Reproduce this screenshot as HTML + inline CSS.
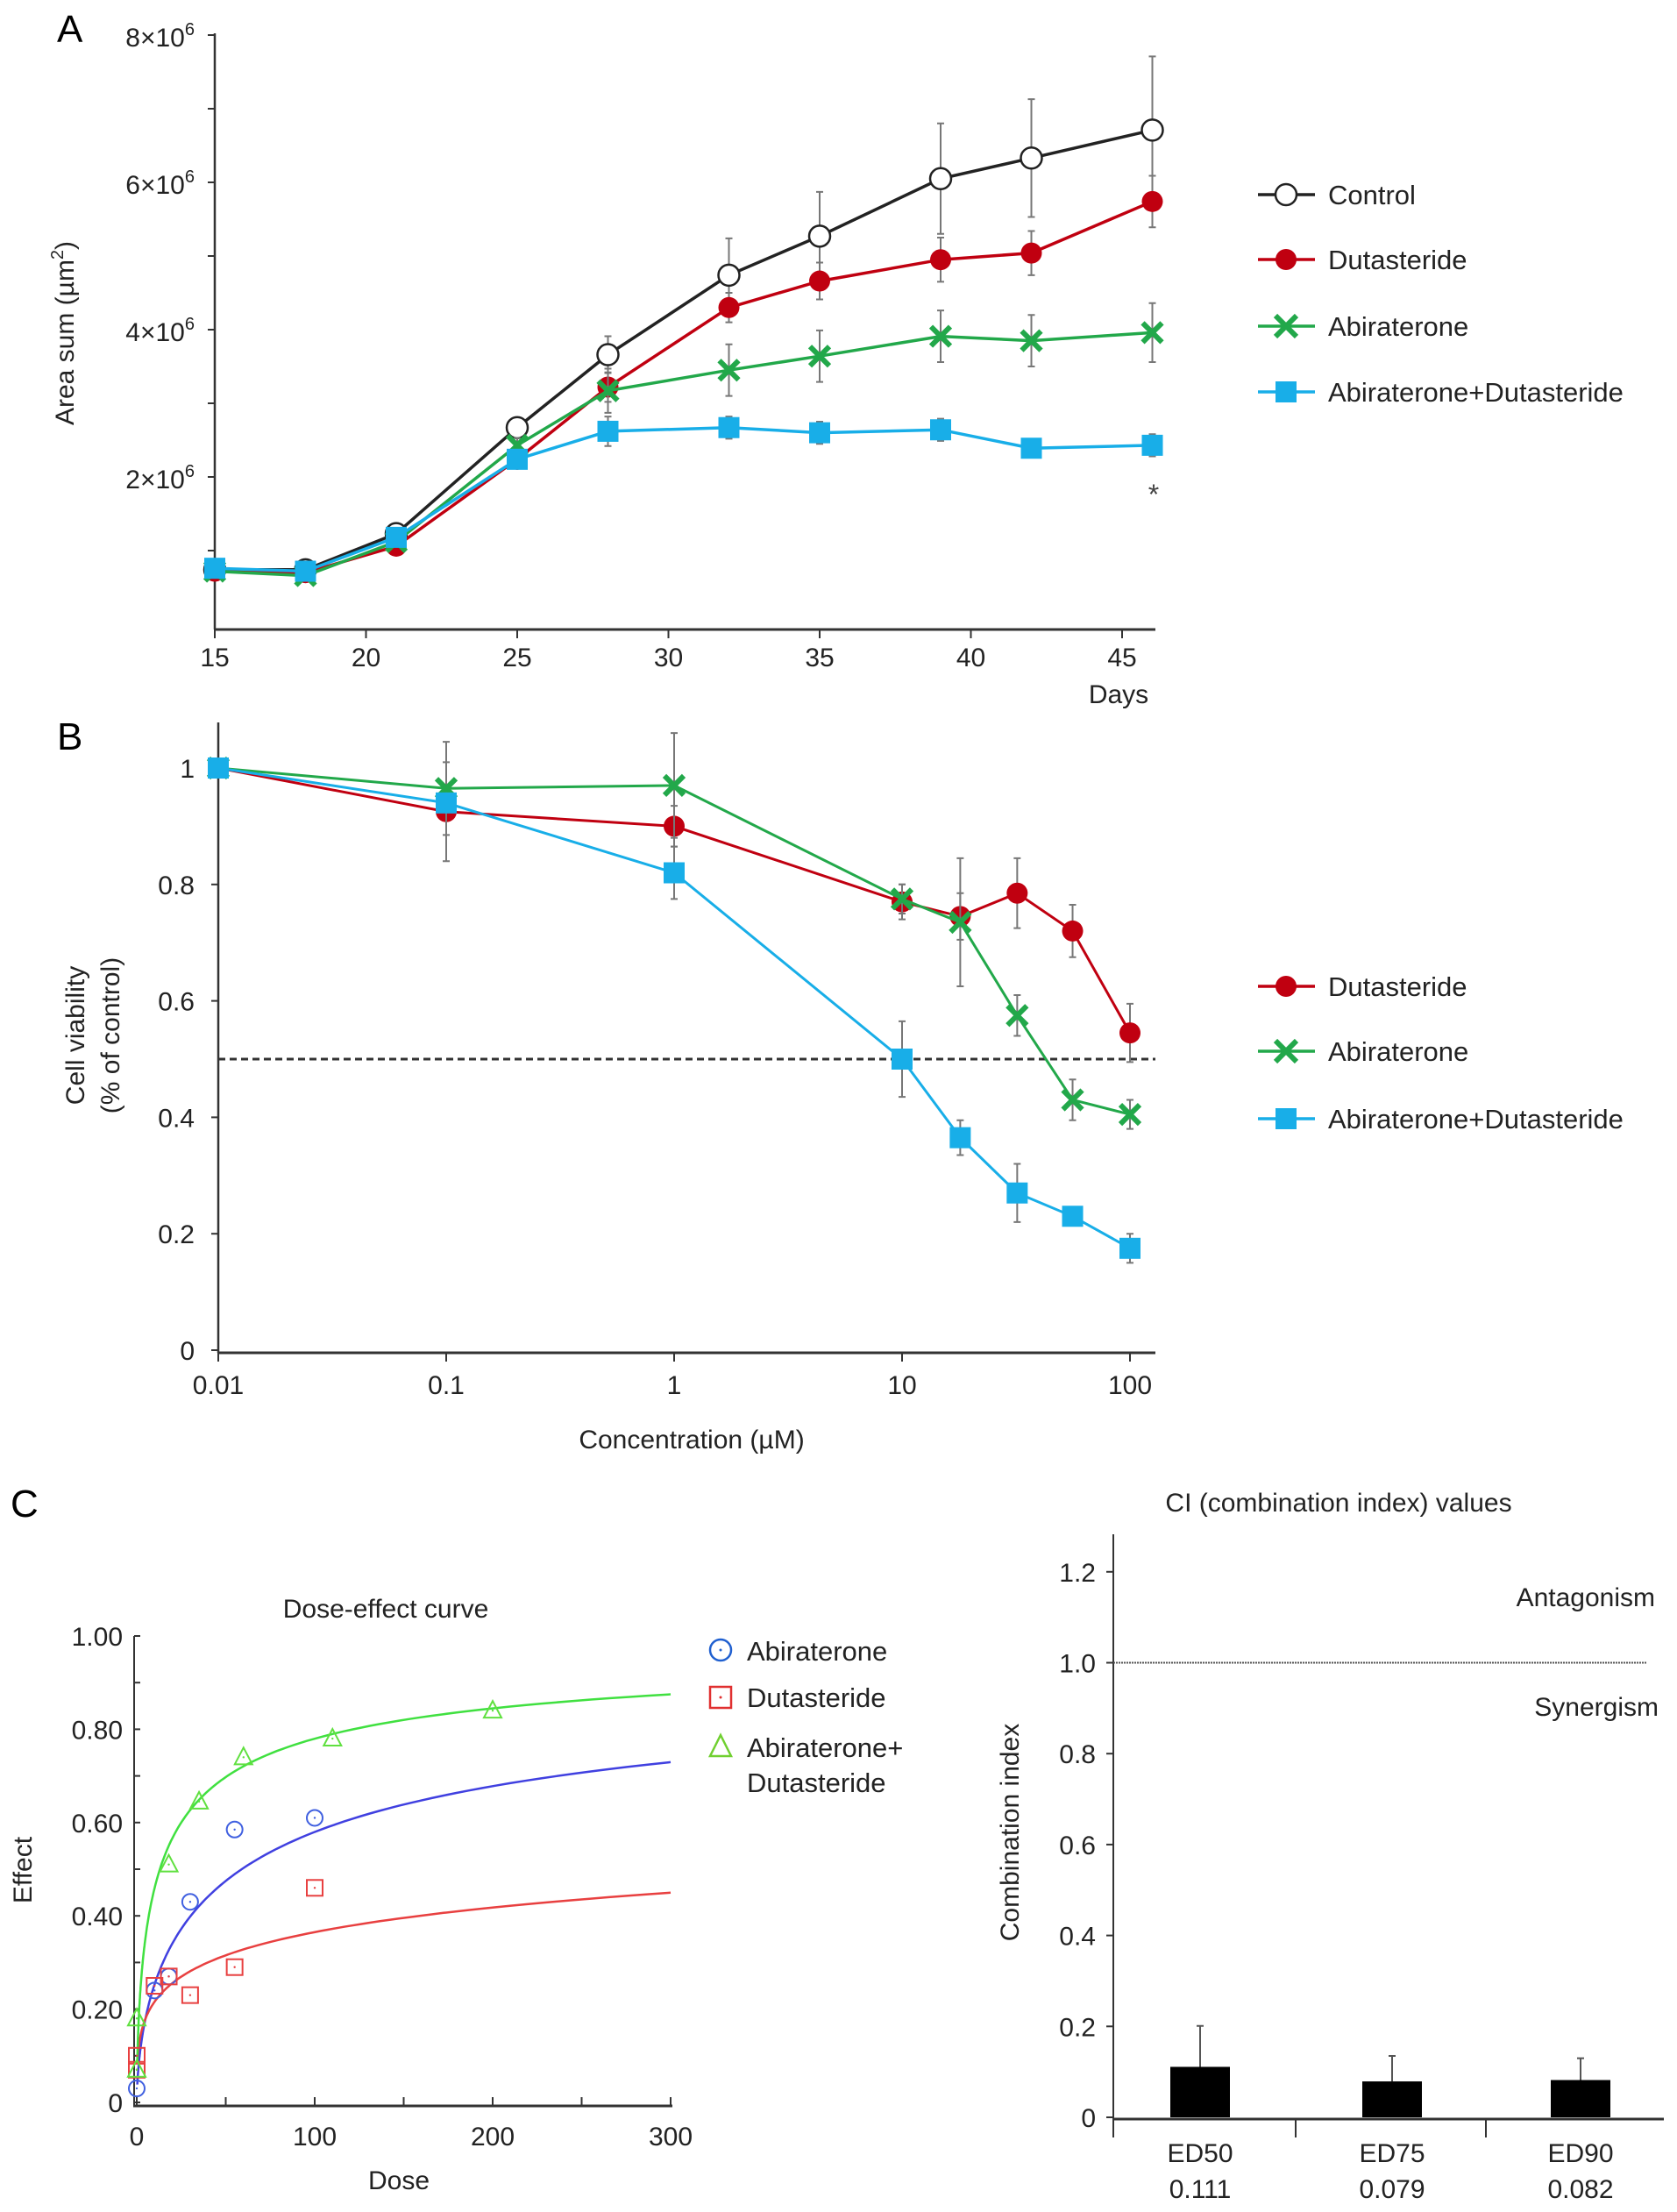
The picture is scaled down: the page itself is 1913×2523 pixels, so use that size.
<!DOCTYPE html>
<html><head><meta charset="utf-8"><style>
html,body{margin:0;padding:0;background:#fff}
svg{display:block;font-family:"Liberation Sans",sans-serif}
</style></head><body>
<svg id="fig" width="1913" height="2523" viewBox="0 0 1913 2523" xmlns="http://www.w3.org/2000/svg">
<g id="gA"></g>
<g id="gB"></g>
<g id="gC"></g>
<g id="gD"></g>
</svg>
<script>
// ---- Panel A data ----
const daysA=[15,18,21,25,28,32,35,39,42,46];
const ctrlA=[0.74,0.74,1.23,2.67,3.66,4.74,5.27,6.05,6.33,6.71];
const ctrlErrA=[0.05,0.05,0.08,0.1,0.25,0.5,0.6,0.75,0.8,1.0];
const dutA=[0.72,0.70,1.06,2.24,3.22,4.30,4.66,4.95,5.04,5.74];
const dutErrA=[0.05,0.05,0.05,0.1,0.2,0.2,0.25,0.3,0.3,0.35];
const abiA=[0.72,0.66,1.12,2.43,3.17,3.45,3.64,3.91,3.85,3.96];
const abiErrA=[0.05,0.05,0.05,0.1,0.3,0.35,0.35,0.35,0.35,0.4];
const comboA=[0.76,0.72,1.18,2.24,2.62,2.67,2.60,2.64,2.39,2.43];
const comboErrA=[0.05,0.05,0.05,0.1,0.2,0.15,0.15,0.15,0.12,0.15];
const xTicksA=[15,20,25,30,35,40,45];
const yTicksA=[2,4,6,8];
// ---- Panel B data ----
const concB=[0.01,0.1,1,10,18,32,56,100];
const dutB=[1,0.925,0.90,0.77,0.745,0.785,0.72,0.545];
const dutErrB=[0,0.085,0.035,0.03,0.04,0.06,0.045,0.05];
const abiB=[1,0.965,0.97,0.775,0.735,0.575,0.43,0.405];
const abiErrB=[0,0.08,0.09,0.025,0.11,0.035,0.035,0.025];
const comboB=[1,0.94,0.82,0.50,0.365,0.27,0.23,0.175];
const comboErrB=[0,0.01,0.045,0.065,0.03,0.05,0.01,0.025];
const xTicksB=[0.01,0.1,1,10,100];
const xTickLabelsB=["0.01","0.1","1","10","100"];
const yTicksB=[0,0.2,0.4,0.6,0.8,1];
const yTickLabelsB=["0","0.2","0.4","0.6","0.8","1"];
// ---- Panel C dose-effect data ----
const abiDoseC=[0,10,18,30,55,100];
const abiEffC=[0.03,0.24,0.27,0.43,0.585,0.61];
const dutDoseC=[0,0,10,18,30,55,100];
const dutEffC=[0.07,0.10,0.25,0.27,0.23,0.29,0.46];
const comboDoseC=[0,0,18,35,60,110,200];
const comboEffC=[0.18,0.07,0.51,0.645,0.74,0.78,0.84];
const curveDm=[59,564,13];   // abi, dut, combo
const curveM=[0.61,0.32,0.62];
const xTicksC=[0,100,200,300];
const yTicksC=[0,0.2,0.4,0.6,0.8,1.0];
const yTickLabelsC=["0","0.20","0.40","0.60","0.80","1.00"];
// ---- Panel C CI data ----
const ciCats=["ED50","ED75","ED90"];
const ciVals=[0.111,0.079,0.082];
const ciErr=[0.09,0.056,0.048];
const ciLabels=["0.111","0.079","0.082"];
const yTicksD=[0,0.2,0.4,0.6,0.8,1.0,1.2];
const yTickLabelsD=["0","0.2","0.4","0.6","0.8","1.0","1.2"];

const NS="http://www.w3.org/2000/svg";
function mk(p,tag,at,txt){const e=document.createElementNS(NS,tag);for(const k in at)e.setAttribute(k,at[k]);if(txt!==undefined)e.textContent=txt;p.appendChild(e);return e;}
function path(pts){return pts.map((p,i)=>(i?'L':'M')+p[0].toFixed(1)+' '+p[1].toFixed(1)).join(' ');}

function marker(g,type,x,y,col,s){
  let e;
  if(type==='open'){e=mk(g,'circle',{cx:x,cy:y,r:s,fill:'#fff',stroke:'#222','stroke-width':2.5});}
  else if(type==='dot'){e=mk(g,'circle',{cx:x,cy:y,r:s,fill:col});}
  else if(type==='sq'){e=mk(g,'rect',{x:x-s,y:y-s,width:2*s,height:2*s,fill:col});}
  else {e=mk(g,'path',{d:`M${x-s} ${y-s}L${x+s} ${y+s}M${x-s} ${y+s}L${x+s} ${y-s}`,stroke:col,'stroke-width':6});}
  
  
}

// ===== Panel A =====
(function(){
  const g=document.getElementById('gA');
  const X=d=>245+(d-15)*34.5, Y=v=>712-84*v;
  mk(g,'text',{x:65,y:48,'font-size':44},'A');
  mk(g,'line',{x1:245,y1:38,x2:245,y2:718,stroke:'#333','stroke-width':2.5});
  mk(g,'line',{x1:244,y1:718,x2:1318,y2:718,stroke:'#333','stroke-width':3});
  for(let v=1;v<=8;v++)mk(g,'line',{x1:237,y1:Y(v),x2:245,y2:Y(v),stroke:'#333','stroke-width':2});
  yTicksA.forEach(v=>{const t=mk(g,'text',{x:222,y:Y(v)+13,'font-size':30,'text-anchor':'end',fill:'#222'});
    
    mk(t,'tspan',{},v+'\u00d710');mk(t,'tspan',{dy:-13,'font-size':20},'6');});
  for(let d=15;d<=45;d+=5)mk(g,'line',{x1:X(d),y1:718,x2:X(d),y2:728,stroke:'#333','stroke-width':2});
  xTicksA.forEach(d=>{const t=mk(g,'text',{x:X(d),y:760,'font-size':30,'text-anchor':'middle',fill:'#222'},d);});
  mk(g,'text',{x:1276,y:802,'font-size':30,'text-anchor':'middle',fill:'#222'},'Days');
  const yt=mk(g,'text',{x:0,y:0,'font-size':30,'text-anchor':'middle',fill:'#222',transform:'translate(84,380) rotate(-90)'});
  
  mk(yt,'tspan',{},'Area sum (\u00b5m');mk(yt,'tspan',{dy:-12,'font-size':20},'2');mk(yt,'tspan',{dy:12},')');
  mk(g,'text',{x:1316,y:575,'font-size':32,'text-anchor':'middle',fill:'#444'},'*');
  const ser=[[ctrlA,ctrlErrA,'#222','open',12,'series-control'],[dutA,dutErrA,'#c00010','dot',12,'series-dutasteride'],
             [abiA,abiErrA,'#22a84a','x',11,'series-abiraterone'],[comboA,comboErrA,'#18aee8','sq',12,'series-combo']];
  ser.forEach(([v,e,c,m,s,n])=>{
    const sg=mk(g,'g',{});
    v.forEach((y,i)=>{const x=X(daysA[i]);mk(sg,'path',{d:`M${x} ${Y(y-e[i])}V${Y(y+e[i])}M${x-4} ${Y(y-e[i])}h8M${x-4} ${Y(y+e[i])}h8`,stroke:'#777','stroke-width':2});});
    mk(sg,'path',{d:path(v.map((y,i)=>[X(daysA[i]),Y(y)])),fill:'none',stroke:c,'stroke-width':3.5});
    v.forEach((y,i)=>marker(sg,m,X(daysA[i]),Y(y),c,s));
  });
  const leg=[['Control','#222','open'],['Dutasteride','#c00010','dot'],['Abiraterone','#22a84a','x'],['Abiraterone+Dutasteride','#18aee8','sq']];
  const ly=[222,296,372,447];
  leg.forEach((l,i)=>{const lg=mk(g,'g',{});
    mk(lg,'line',{x1:1435,y1:ly[i],x2:1500,y2:ly[i],stroke:l[1],'stroke-width':3.5});marker(lg,l[2],1467,ly[i],l[1],12);
    mk(lg,'text',{x:1515,y:ly[i]+11,'font-size':31,fill:'#222'},l[0]);});
})();

// ===== Panel B =====
(function(){
  const g=document.getElementById('gB');
  const X=c=>249+(Math.log10(c)+2)*260, Y=v=>1540-664*v;
  mk(g,'text',{x:65,y:855,'font-size':44},'B');
  mk(g,'line',{x1:249,y1:824,x2:249,y2:1543,stroke:'#333','stroke-width':2.5});
  mk(g,'line',{x1:248,y1:1543,x2:1318,y2:1543,stroke:'#333','stroke-width':3});
  yTicksB.forEach((v,i)=>{mk(g,'line',{x1:241,y1:Y(v),x2:249,y2:Y(v),stroke:'#333','stroke-width':2});
    const t=mk(g,'text',{x:222,y:Y(v)+11,'font-size':30,'text-anchor':'end',fill:'#222'},yTickLabelsB[i]);});
  xTicksB.forEach((c,i)=>{mk(g,'line',{x1:X(c),y1:1543,x2:X(c),y2:1553,stroke:'#333','stroke-width':2});
    const t=mk(g,'text',{x:X(c),y:1590,'font-size':30,'text-anchor':'middle',fill:'#222'},xTickLabelsB[i]);});
  mk(g,'text',{x:789,y:1652,'font-size':30,'text-anchor':'middle',fill:'#222'},'Concentration (\u00b5M)');
  const yt=mk(g,'text',{x:0,y:0,'font-size':30,'text-anchor':'middle',fill:'#222',transform:'translate(96,1181) rotate(-90)'},'Cell viability');
  mk(g,'text',{x:0,y:0,'font-size':30,'text-anchor':'middle',fill:'#222',transform:'translate(136,1181) rotate(-90)'},'(% of control)');
  const hl=mk(g,'line',{x1:249,y1:Y(0.5),x2:1318,y2:Y(0.5),stroke:'#333','stroke-width':3,'stroke-dasharray':'8 5'});
  const ser=[[dutB,dutErrB,'#c00010','dot',12,'series-dutasteride'],[abiB,abiErrB,'#22a84a','x',11,'series-abiraterone'],[comboB,comboErrB,'#18aee8','sq',12,'series-combo']];
  ser.forEach(([v,e,c,m,s,n])=>{
    const sg=mk(g,'g',{});
    v.forEach((y,i)=>{if(!e[i])return;const x=X(concB[i]);mk(sg,'path',{d:`M${x} ${Y(y-e[i])}V${Y(y+e[i])}M${x-4} ${Y(y-e[i])}h8M${x-4} ${Y(y+e[i])}h8`,stroke:'#777','stroke-width':2});});
    mk(sg,'path',{d:path(v.map((y,i)=>[X(concB[i]),Y(y)])),fill:'none',stroke:c,'stroke-width':3});
    v.forEach((y,i)=>marker(sg,m,X(concB[i]),Y(y),c,s));
  });
  const leg=[['Dutasteride','#c00010','dot'],['Abiraterone','#22a84a','x'],['Abiraterone+Dutasteride','#18aee8','sq']];
  const ly=[1125,1199,1276];
  leg.forEach((l,i)=>{const lg=mk(g,'g',{});
    mk(lg,'line',{x1:1435,y1:ly[i],x2:1500,y2:ly[i],stroke:l[1],'stroke-width':3.5});marker(lg,l[2],1467,ly[i],l[1],12);
    mk(lg,'text',{x:1515,y:ly[i]+11,'font-size':31,fill:'#222'},l[0]);});
})();

// ===== Panel C left =====
(function(){
  const g=document.getElementById('gC');
  const X=d=>156+d*2.03, Y=v=>2398-532*v;
  mk(g,'text',{x:12,y:1730,'font-size':44},'C');
  mk(g,'text',{x:440,y:1845,'font-size':30,'text-anchor':'middle',fill:'#222'},'Dose-effect curve');
  mk(g,'line',{x1:153,y1:1866,x2:153,y2:2402,stroke:'#333','stroke-width':2});
  mk(g,'line',{x1:152,y1:2402,x2:767,y2:2402,stroke:'#333','stroke-width':3});
  for(let v=0;v<=10;v++)mk(g,'line',{x1:153,y1:Y(v/10),x2:160,y2:Y(v/10),stroke:'#333','stroke-width':2});
  yTicksC.forEach((v,i)=>{const t=mk(g,'text',{x:140,y:Y(v)+11,'font-size':30,'text-anchor':'end',fill:'#222'},yTickLabelsC[i]);});
  for(let d=0;d<=300;d+=50)mk(g,'line',{x1:X(d),y1:2402,x2:X(d),y2:2392,stroke:'#333','stroke-width':2});
  xTicksC.forEach(d=>{const t=mk(g,'text',{x:X(d),y:2447,'font-size':30,'text-anchor':'middle',fill:'#222'},d);});
  mk(g,'text',{x:455,y:2497,'font-size':30,'text-anchor':'middle',fill:'#222'},'Dose');
  mk(g,'text',{x:0,y:0,'font-size':30,'text-anchor':'middle',fill:'#222',transform:'translate(36,2133) rotate(-90)'},'Effect');
  const cols=['#4040e0','#e84040','#40e040'];
  const names=['curve-abiraterone','curve-dutasteride','curve-combo'];
  cols.forEach((c,k)=>{const pts=[];for(let d=0.3;d<=300;d*=1.04){pts.push([X(d),Y(1/(1+Math.pow(curveDm[k]/d,curveM[k])))]);}
    pts.push([X(300),Y(1/(1+Math.pow(curveDm[k]/300,curveM[k])))]);
    const p=mk(g,'path',{d:path(pts),fill:'none',stroke:c,'stroke-width':2.5});});
  const pt=(type,x,y,c)=>{let e;
    if(type==='c')e=mk(g,'circle',{cx:x,cy:y,r:9,fill:'none',stroke:c,'stroke-width':2});
    else if(type==='s')e=mk(g,'rect',{x:x-9,y:y-9,width:18,height:18,fill:'none',stroke:c,'stroke-width':2});
    else e=mk(g,'path',{d:`M${x} ${y-11}L${x+10} ${y+8}L${x-10} ${y+8}Z`,fill:'none',stroke:c,'stroke-width':2});
    
    mk(g,'circle',{cx:x,cy:y,r:1.2,fill:c});};
  abiDoseC.forEach((d,i)=>pt('c',X(d),Y(abiEffC[i]),'#4060e0'));
  dutDoseC.forEach((d,i)=>pt('s',X(d),Y(dutEffC[i]),'#e84040'));
  comboDoseC.forEach((d,i)=>pt('t',X(d),Y(comboEffC[i]),'#60e040'));
  const lg=mk(g,'g',{});
  mk(lg,'circle',{cx:822,cy:1882,r:12,fill:'none',stroke:'#2060d0','stroke-width':2.5});mk(lg,'circle',{cx:822,cy:1882,r:1.5,fill:'#2060d0'});
  mk(lg,'text',{x:852,y:1894,'font-size':31,fill:'#222'},'Abiraterone');
  mk(lg,'rect',{x:810,y:1924,width:24,height:24,fill:'none',stroke:'#e03030','stroke-width':2.5});mk(lg,'circle',{cx:822,cy:1936,r:1.5,fill:'#e03030'});
  mk(lg,'text',{x:852,y:1947,'font-size':31,fill:'#222'},'Dutasteride');
  mk(lg,'path',{d:'M822 1979L834 2003L810 2003Z',fill:'none',stroke:'#70d030','stroke-width':2.5});
  mk(lg,'text',{x:852,y:2004,'font-size':31,fill:'#222'},'Abiraterone+');
  mk(lg,'text',{x:852,y:2044,'font-size':31,fill:'#222'},'Dutasteride');
})();

// ===== Panel C right =====
(function(){
  const g=document.getElementById('gD');
  const Y=v=>2415-518.5*v;
  const bx=[1369,1588,1803];
  mk(g,'text',{x:1527,y:1724,'font-size':30,'text-anchor':'middle',fill:'#222'},'CI (combination index) values');
  mk(g,'line',{x1:1270,y1:1750,x2:1270,y2:2438,stroke:'#333','stroke-width':2});
  mk(g,'line',{x1:1270,y1:2417,x2:1898,y2:2417,stroke:'#333','stroke-width':3});
  [1478,1695].forEach(x=>mk(g,'line',{x1:x,y1:2417,x2:x,y2:2438,stroke:'#333','stroke-width':2}));
  yTicksD.forEach((v,i)=>{mk(g,'line',{x1:1262,y1:Y(v),x2:1270,y2:Y(v),stroke:'#333','stroke-width':2});
    const t=mk(g,'text',{x:1250,y:Y(v)+11,'font-size':30,'text-anchor':'end',fill:'#222'},yTickLabelsD[i]);});
  const rl=mk(g,'line',{x1:1270,y1:Y(1),x2:1878,y2:Y(1),stroke:'#555','stroke-width':2,'stroke-dasharray':'2 1'});
  mk(g,'text',{x:1888,y:1832,'font-size':30,'text-anchor':'end',fill:'#222'},'Antagonism');
  mk(g,'text',{x:1892,y:1957,'font-size':30,'text-anchor':'end',fill:'#222'},'Synergism');
  mk(g,'text',{x:0,y:0,'font-size':30,'text-anchor':'middle',fill:'#222',transform:'translate(1162,2090) rotate(-90)'},'Combination index');
  ciVals.forEach((v,i)=>{const x=bx[i];
    mk(g,'path',{d:`M${x} ${Y(v)}V${Y(v+ciErr[i])}M${x-4} ${Y(v+ciErr[i])}h8`,stroke:'#555','stroke-width':2});
    const r=mk(g,'rect',{x:x-34,y:Y(v),width:68,height:Y(0)-Y(v),fill:'#000'});
    
    const t=mk(g,'text',{x:x,y:2466,'font-size':30,'text-anchor':'middle',fill:'#222'},ciCats[i]);
    const t2=mk(g,'text',{x:x,y:2507,'font-size':30,'text-anchor':'middle',fill:'#222'},ciLabels[i]);
  });
})();
</script>
</body></html>
